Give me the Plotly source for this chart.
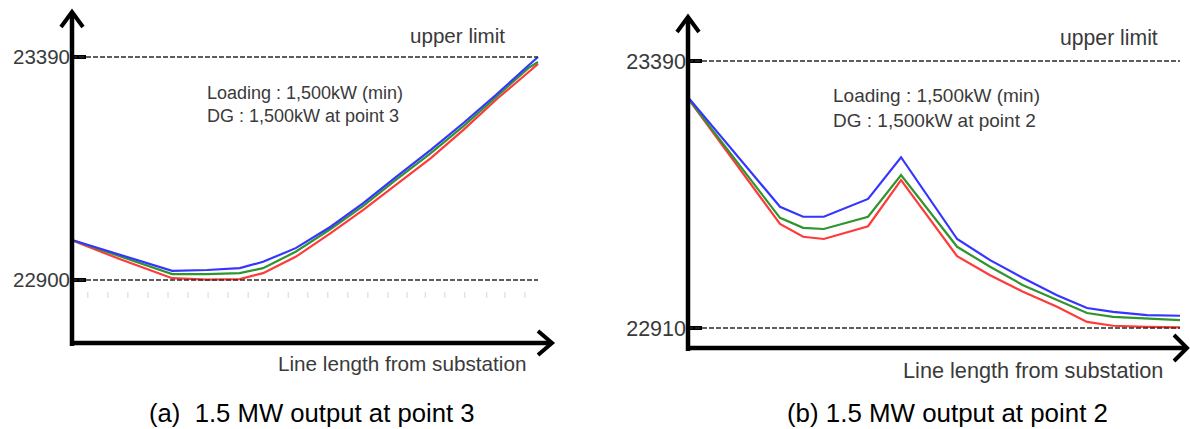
import plotly.graph_objects as go

W, H = 1190, 429

# ---- panel (a): DG at point 3 ----
a_dist = [0, 10.5, 21.5, 29, 36, 41, 48, 55.5, 62.5, 69.5, 77, 84, 91, 98, 100]
a_blue = [22988, 22954, 22920, 22922, 22926, 22940, 22970, 23017, 23069, 23126, 23186, 23245, 23307, 23372, 23390]
a_green = [22988, 22951, 22913, 22913, 22915, 22926, 22962, 23012, 23063, 23120, 23179, 23238, 23302, 23366, 23379]
a_red = [22987, 22945, 22904, 22901, 22902, 22915, 22951, 23003, 23054, 23109, 23168, 23230, 23296, 23357, 23375]
a_limits = [22900, 23390]
a_faint_ticks = [3.4, 7.7, 12.0, 16.3, 20.6, 24.9, 29.2, 33.5, 37.8, 42.1, 46.4, 50.6,
                 54.9, 59.2, 63.5, 67.8, 71.9, 75.8, 80.0, 84.3, 89.0, 92.9, 97.2]

# ---- panel (b): DG at point 2 ----
b_dist = [0, 18.7, 23.4, 27.6, 36.6, 43.3, 54.7, 61.4, 68.1, 75, 81.1, 86.4, 93.3, 100]
b_blue = [23325, 23128, 23110, 23110, 23142, 23217, 23070, 23032, 23000, 22969, 22946, 22939, 22933, 22932]
b_green = [23323, 23108, 23090, 23088, 23110, 23185, 23056, 23020, 22987, 22960, 22937, 22930, 22927, 22924]
b_red = [23323, 23097, 23074, 23070, 23093, 23176, 23039, 23005, 22975, 22948, 22921, 22914, 22912, 22911]
b_limits = [22910, 23390]

FONT = "Liberation Sans, Arial, sans-serif"
TXT = "#3a3a3a"


def fx(px):
    return px / W


def fy(py):
    return 1 - py / H


def lin(p0, v0, p1, v1):
    return lambda p: v0 + (p - p0) * (v1 - v0) / (p1 - p0)


fig = go.Figure()

# pixel anchors for each panel: axis origin, curve end, limit lines
panels = [
    dict(x0=72, xend=538, xright=556, ytop=10, ybot=345, py_hi=57, py_lo=280,
         limits=a_limits, dist=a_dist, series=(a_red, a_green, a_blue), xa="x", ya="y",
         tick_font=20.5),
    dict(x0=688, xend=1180, xright=1190, ytop=14, ybot=350, py_hi=61, py_lo=328,
         limits=b_limits, dist=b_dist, series=(b_red, b_green, b_blue), xa="x2", ya="y2",
         tick_font=21.5),
]

colors = ["#ff3a3a", "#2f952f", "#3535ff"]
names = ["red", "green", "blue"]

for i, p in enumerate(panels):
    xmap = lin(p["x0"], 0, p["xend"], 100)
    ymap = lin(p["py_lo"], p["limits"][0], p["py_hi"], p["limits"][1])
    sfx = "" if i == 0 else "2"
    fig.update_layout(**{
        "xaxis" + sfx: dict(domain=[fx(p["x0"]), fx(p["xright"])],
                            range=[0, xmap(p["xright"])], visible=False,
                            fixedrange=True, anchor="y" + sfx),
        "yaxis" + sfx: dict(domain=[fy(p["ybot"]), fy(p["ytop"])],
                            range=[ymap(p["ybot"]), ymap(p["ytop"])],
                            anchor="x" + sfx, showgrid=False, zeroline=False, showline=False,
                            tickvals=p["limits"], ticktext=[str(v) for v in p["limits"]],
                            ticks="inside", ticklen=14, tickwidth=3.5, tickcolor="black",
                            ticklabelstandoff=1, fixedrange=True,
                            tickfont=dict(family=FONT, size=p["tick_font"], color=TXT)),
    })

    for v in p["limits"]:
        fig.add_shape(type="line", xref=p["xa"], yref=p["ya"], x0=0, x1=100, y0=v, y1=v,
                      line=dict(color="#2a2a2a", width=1.5, dash="5px,2px"))

    for s, c, n in zip(p["series"], colors, names):
        fig.add_trace(go.Scatter(x=p["dist"], y=s, mode="lines", name=n,
                                 line=dict(color=c, width=2.2), xaxis=p["xa"], yaxis=p["ya"],
                                 showlegend=False, hoverinfo="skip"))

# faint marks under the 22900 line in panel (a)
fig.add_trace(go.Scatter(x=a_faint_ticks, y=[22867] * len(a_faint_ticks), mode="markers",
                         marker=dict(symbol="line-ns-open", size=4, color="#d4d4d4",
                                     line=dict(color="#d4d4d4", width=1)),
                         xaxis="x", yaxis="y", showlegend=False, hoverinfo="skip"))

# axis lines with open arrow heads (pixel geometry)
axis_lines = [
    ((72, 346), (72, 14)), ((70, 343), (550, 343)),
    ((688, 351), (688, 19)), ((686, 348), (1186, 348)),
]
for (xa0, ya0), (xa1, ya1) in axis_lines:
    fig.add_shape(type="line", xref="paper", yref="paper", x0=fx(xa0), y0=fy(ya0), x1=fx(xa1), y1=fy(ya1),
                  line=dict(color="black", width=4.5))

chevrons = [
    [(61, 27), (72, 12), (83, 27)],
    [(538, 331), (552, 343), (538, 355)],
    [(677, 32), (688, 17), (699, 32)],
    [(1174, 335), (1187, 348), (1174, 361)],
]
for pts in chevrons:
    path = "M " + " L ".join(f"{fx(x):.5f},{fy(y):.5f}" for x, y in pts)
    fig.add_shape(type="path", xref="paper", yref="paper", path=path,
                  line=dict(color="black", width=4))

texts = [
    ("upper limit", 457, 35, "center", 20.6, TXT),
    ("Line length from substation", 528, 363, "right", 20.7, TXT),
    ("Loading : 1,500kW (min)<br>DG : 1,500kW at point 3", 205, 104, "left", 18, TXT),
    ("(a)  1.5 MW output at point 3", 147, 413, "left", 25.7, "black"),
    ("upper limit", 1109, 38, "center", 21.2, TXT),
    ("Line length from substation", 1165, 370, "right", 21.7, TXT),
    ("Loading : 1,500kW (min)<br>DG : 1,500kW at point 2", 831, 108, "left", 19, TXT),
    ("(b) 1.5 MW output at point 2", 785, 413, "left", 25.9, "black"),
]
for t, x, y, anc, size, col in texts:
    fig.add_annotation(text=t, xref="paper", yref="paper", x=fx(x), y=fy(y),
                       xanchor=anc, yanchor="middle", align="left", showarrow=False,
                       font=dict(family=FONT, size=size, color=col))

fig.update_layout(width=W, height=H, margin=dict(l=0, r=0, t=0, b=0),
                  paper_bgcolor="white", plot_bgcolor="rgba(0,0,0,0)")

# drop the default page margin so the figure fills the window exactly
fig.write_html("out.html", config=dict(displayModeBar=False, staticPlot=True),
               post_script="document.body.style.margin='0';"
                           "document.documentElement.style.overflow='hidden';")
